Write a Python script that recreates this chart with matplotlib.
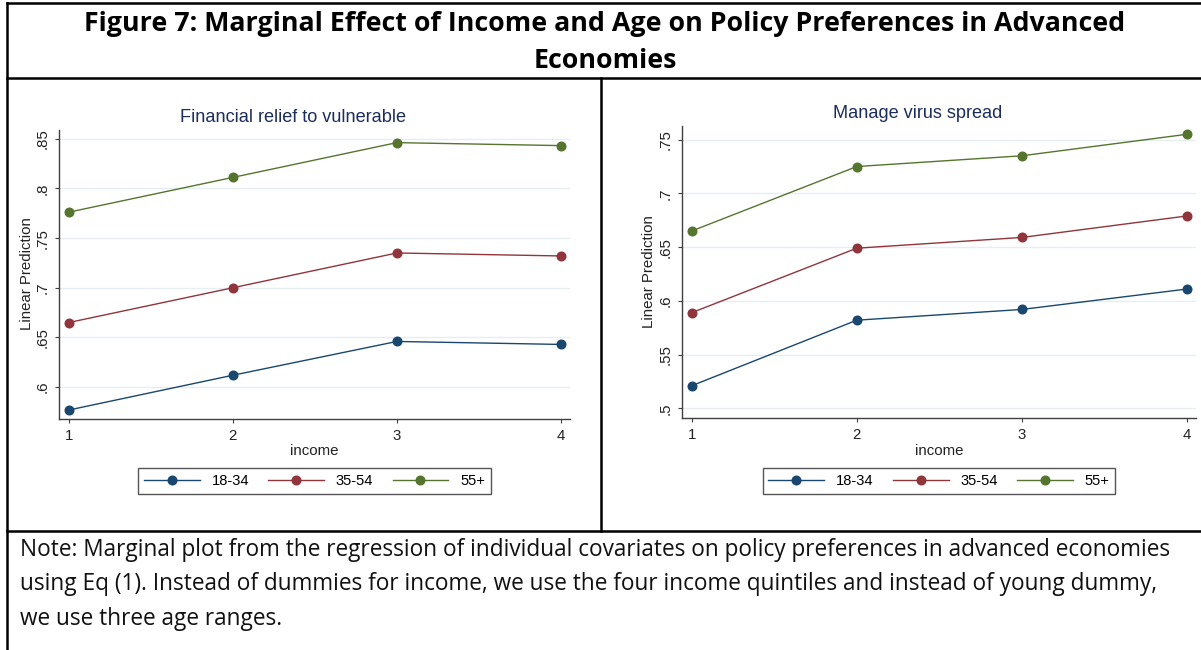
import matplotlib
matplotlib.use("Agg")
import matplotlib.pyplot as plt
from matplotlib.lines import Line2D

plt.rcParams["font.family"] = ["Liberation Sans", "DejaVu Sans"]

# predicted shares by income quartile for three age groups
income = [1, 2, 3, 4]
age_groups = ["18-34", "35-54", "55+"]

fin_18_34 = [0.577, 0.612, 0.646, 0.643]
fin_35_54 = [0.665, 0.700, 0.735, 0.732]
fin_55 = [0.776, 0.811, 0.846, 0.843]

virus_18_34 = [0.521, 0.582, 0.592, 0.611]
virus_35_54 = [0.589, 0.649, 0.659, 0.679]
virus_55 = [0.665, 0.725, 0.735, 0.755]

fin_ticks = [0.6, 0.65, 0.7, 0.75, 0.8, 0.85]
virus_ticks = [0.5, 0.55, 0.6, 0.65, 0.7, 0.75]

colors = ["#1a476f", "#90353b", "#55752f"]

W, H = 1201, 650
fig = plt.figure(figsize=(W / 100, H / 100), dpi=100)
fig.patch.set_facecolor("white")


def fx(x):
    return x / W


def fy(y):
    return 1 - y / H


def box(x0, y0, x1, y1):
    return [fx(x0), fy(y1), fx(x1) - fx(x0), fy(y0) - fy(y1)]


def stata_label(v):
    s = ("%.2f" % v).rstrip("0").rstrip(".")
    return s[1:] if s.startswith("0") else s


def panel(rect, series, ticks, ylim, title, title_xy, xlab_xy, ylab_xy, leg_xy):
    ax = fig.add_axes(box(*rect))
    for vals, c, lab in zip(series, colors, age_groups):
        ax.plot(income, vals, color=c, lw=1.0, marker="o", ms=6.2, label=lab)
    ax.set_xlim(0.943, 4.055)
    ax.set_ylim(*ylim)
    ax.set_xticks(income)
    ax.set_yticks(ticks)
    ax.set_yticklabels([stata_label(t) for t in ticks], rotation=90, va="center")
    for sp in ["top", "right"]:
        ax.spines[sp].set_visible(False)
    for sp in ["left", "bottom"]:
        ax.spines[sp].set_color("#404040")
        ax.spines[sp].set_linewidth(1.0)
    ax.tick_params(length=3, width=0.8, color="#404040", labelsize=10.8,
                   labelcolor="#222222", pad=4)
    ax.grid(axis="y", color="#e6eef0", lw=1.0)
    ax.set_axisbelow(True)

    fig.text(fx(title_xy[0]), fy(title_xy[1]), title, ha="center", va="center",
             fontsize=13.1, color="#1c2d5c")
    fig.text(fx(xlab_xy[0]), fy(xlab_xy[1]), "income", ha="center", va="center",
             fontsize=10.8, color="#222222")
    fig.text(fx(ylab_xy[0]), fy(ylab_xy[1]), "Linear Prediction", ha="center",
             va="center", rotation=90, fontsize=10.8, color="#222222")

    leg = ax.legend(loc="center", bbox_to_anchor=(fx(leg_xy[0]), fy(leg_xy[1])),
                    bbox_transform=fig.transFigure, ncol=3, fontsize=10.6,
                    handlelength=3.8, handletextpad=0.8, columnspacing=1.3,
                    borderpad=0.4, fancybox=False, framealpha=1,
                    edgecolor="#555555", markerscale=1.0)
    leg.get_frame().set_linewidth(1.0)
    return ax


panel((59.3, 130, 570, 419), [fin_18_34, fin_35_54, fin_55], fin_ticks,
      (0.568, 0.8587), "Financial relief to vulnerable", (293.5, 117),
      (314, 451), (27, 274), (314.5, 480.7))

panel((682.3, 125.7, 1196, 418.3), [virus_18_34, virus_35_54, virus_55],
      virus_ticks, (0.4907, 0.763), "Manage virus spread", (917.5, 113),
      (939, 450.7), (649, 272), (939, 480.7))

# table frame around the figure
frame_kw = dict(color="black", lw=1.8, transform=fig.transFigure)
fig.add_artist(Line2D([fx(6.5), fx(W)], [fy(2.5), fy(2.5)], **frame_kw))
fig.add_artist(Line2D([fx(6.5), fx(6.5)], [fy(2.5), fy(H)], **frame_kw))
fig.add_artist(Line2D([fx(6.5), fx(W)], [fy(77.7), fy(77.7)], **frame_kw))
fig.add_artist(Line2D([fx(6.5), fx(W)], [fy(531), fy(531)], **frame_kw))
fig.add_artist(Line2D([fx(601), fx(601)], [fy(77.7), fy(531)], **frame_kw))

fig.text(fx(605), fy(24), "Figure 7: Marginal Effect of Income and Age on Policy "
         "Preferences in Advanced", ha="center", va="center", fontsize=19.3,
         fontweight="bold", family="Open Sans")
fig.text(fx(605), fy(61), "Economies", ha="center", va="center", fontsize=19.3,
         fontweight="bold", family="Open Sans")

note = ["Note: Marginal plot from the regression of individual covariates on policy "
        "preferences in advanced economies",
        "using Eq (1). Instead of dummies for income, we use the four income "
        "quintiles and instead of young dummy,",
        "we use three age ranges."]
for i, line in enumerate(note):
    fig.text(fx(20), fy(550 + 34.5 * i), line, ha="left", va="center",
             fontsize=16.3, color="#111111", family="Open Sans")

fig.savefig("out.png", dpi=100, facecolor="white")
